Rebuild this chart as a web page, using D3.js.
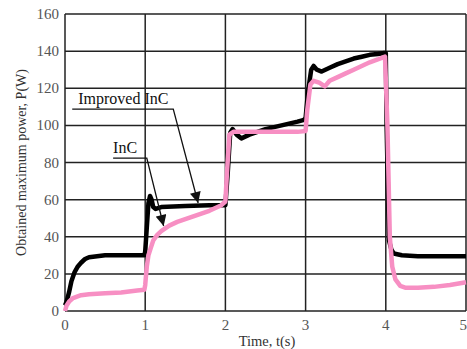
<!DOCTYPE html>
<html>
<head>
<meta charset="utf-8">
<script src="https://cdn.jsdelivr.net/npm/d3@7"></script>
<style>
  body { margin: 0; background: #fff; }
  svg text { font-family: "Liberation Serif", "Times New Roman", serif; }
</style>
</head>
<body>
<div id="chart"></div>
<script>
// time (s) and power (W)
var improvedT = [0, 0.02, 0.05, 0.08, 0.12, 0.16, 0.2, 0.25, 0.3, 0.4, 0.5, 0.7, 0.9, 0.99, 1.0, 1.02, 1.04, 1.06, 1.08, 1.1, 1.13, 1.2, 1.5, 1.8, 1.97, 2.0, 2.03, 2.06, 2.09, 2.14, 2.2, 2.3, 2.5, 2.7, 2.9, 2.98, 3.0, 3.03, 3.07, 3.1, 3.14, 3.2, 3.3, 3.4, 3.5, 3.6, 3.7, 3.8, 3.9, 3.98, 4.0, 4.01, 4.04, 4.07, 4.1, 4.2, 4.4, 4.7, 5.0];
var improvedP = [3, 5, 10, 16, 21, 24, 26, 28, 29, 29.5, 30, 30, 30, 30, 32, 45, 58, 62, 60, 56, 55, 56, 56.5, 57, 57, 57, 75, 96, 98, 95, 93, 95, 98, 100, 102, 103, 104, 118, 130, 132, 130, 129, 131, 133, 134.5, 136, 137, 138, 138.5, 139, 139, 100, 38, 33, 31, 30, 29.5, 29.5, 29.5];

var incT = [0, 0.02, 0.05, 0.1, 0.2, 0.3, 0.5, 0.7, 0.9, 0.99, 1.0, 1.02, 1.04, 1.07, 1.1, 1.15, 1.2, 1.3, 1.4, 1.6, 1.8, 1.95, 2.0, 2.02, 2.05, 2.1, 2.5, 2.9, 3.0, 3.02, 3.06, 3.1, 3.17, 3.24, 3.3, 3.4, 3.5, 3.6, 3.7, 3.8, 3.9, 3.99, 4.02, 4.05, 4.08, 4.12, 4.18, 4.25, 4.4, 4.6, 4.8, 5.0];
var incP = [0, 3, 5, 7, 8.5, 9, 9.5, 10, 11, 11.5, 14, 24, 30, 34, 38, 41, 43, 46, 48, 51, 54, 57, 59, 75, 95, 96.5, 96.5, 96.5, 97, 108, 122, 124, 123, 121, 124, 126, 128, 130, 132, 134, 135.5, 137, 100, 40, 24, 17, 13.5, 12.5, 12.5, 13, 14, 15.5];

var xTicks = [0, 1, 2, 3, 4, 5];
var yTicks = [0, 20, 40, 60, 80, 100, 120, 140, 160];

// annotation anchors in data units: [text, underline start t, underline end t, level, arrow tip t, arrow tip P]
var labelImproved = ["Improved InC", 0.09, 1.35, 108.8, 1.66, 58.2];
var labelInc = ["InC", 0.6, 1.02, 82.4, 1.23, 45.8];

var W = 467, H = 349;
var svg = d3.select("#chart").append("svg").attr("width", W).attr("height", H);

var x = d3.scaleLinear().domain([0, 5]).range([65, 466]);
var y = d3.scaleLinear().domain([0, 160]).range([311, 14]);

var defs = svg.append("defs");
defs.append("marker")
  .attr("id", "arr")
  .attr("viewBox", "0 0 10 10")
  .attr("refX", 10).attr("refY", 5)
  .attr("markerWidth", 13).attr("markerHeight", 11)
  .attr("markerUnits", "userSpaceOnUse")
  .attr("orient", "auto")
  .append("path").attr("d", "M0,0 L10,5 L0,10 z").attr("fill", "#111");

// grid
var grid = svg.append("g");
grid.selectAll("line.h").data(yTicks).enter().append("line")
  .attr("x1", x(0)).attr("x2", x(5))
  .attr("y1", function(d){ return y(d); }).attr("y2", function(d){ return y(d); })
  .attr("stroke", "#222").attr("stroke-width", 1.5);
grid.selectAll("line.v").data(xTicks).enter().append("line")
  .attr("y1", y(0)).attr("y2", y(160))
  .attr("x1", function(d){ return x(d); }).attr("x2", function(d){ return x(d); })
  .attr("stroke", "#222").attr("stroke-width", 1.5);

// tick labels
svg.selectAll("text.yt").data(yTicks).enter().append("text")
  .attr("x", 59).attr("y", function(d){ return y(d) + 5; })
  .attr("text-anchor", "end").attr("font-size", 15).attr("fill", "#555")
  .text(function(d){ return d; });
svg.selectAll("text.xt").data(xTicks).enter().append("text")
  .attr("x", function(d){ return d === 5 ? x(d) + 1 : x(d); }).attr("y", 330)
  .attr("text-anchor", function(d){ return d === 5 ? "end" : "middle"; })
  .attr("font-size", 15).attr("fill", "#555")
  .text(function(d){ return d; });

svg.append("text").attr("x", 267).attr("y", 346)
  .attr("text-anchor", "middle").attr("font-size", 14.5).attr("fill", "#333")
  .text("Time, t(s)");
svg.append("text")
  .attr("transform", "translate(26," + ((y(0) + y(160)) / 2) + ") rotate(-90)")
  .attr("text-anchor", "middle").attr("font-size", 14).attr("fill", "#333")
  .text("Obtained maximum power, P(W)");

// series
var line = d3.line()
  .x(function(d){ return x(d[0]); })
  .y(function(d){ return y(d[1]); });

svg.append("path")
  .datum(d3.zip(improvedT, improvedP))
  .attr("d", line).attr("fill", "none")
  .attr("stroke", "#000").attr("stroke-width", 4.5).attr("stroke-linejoin", "round");
svg.append("path")
  .datum(d3.zip(incT, incP))
  .attr("d", line).attr("fill", "none")
  .attr("stroke", "#f78fc3").attr("stroke-width", 4.5).attr("stroke-linejoin", "round");

// annotations
[labelImproved, labelInc].forEach(function(a){
  svg.append("text")
    .attr("x", x(a[1]) + (a === labelInc ? 0 : 6)).attr("y", y(a[3]) - 5)
    .attr("font-size", 16).attr("fill", "#111")
    .text(a[0]);
  svg.append("path")
    .attr("d", "M" + x(a[1]) + "," + y(a[3]) + " L" + x(a[2]) + "," + y(a[3]) +
               " L" + x(a[4]) + "," + y(a[5]))
    .attr("fill", "none").attr("stroke", "#111").attr("stroke-width", 1.3)
    .attr("marker-end", "url(#arr)");
});
</script>
</body>
</html>
